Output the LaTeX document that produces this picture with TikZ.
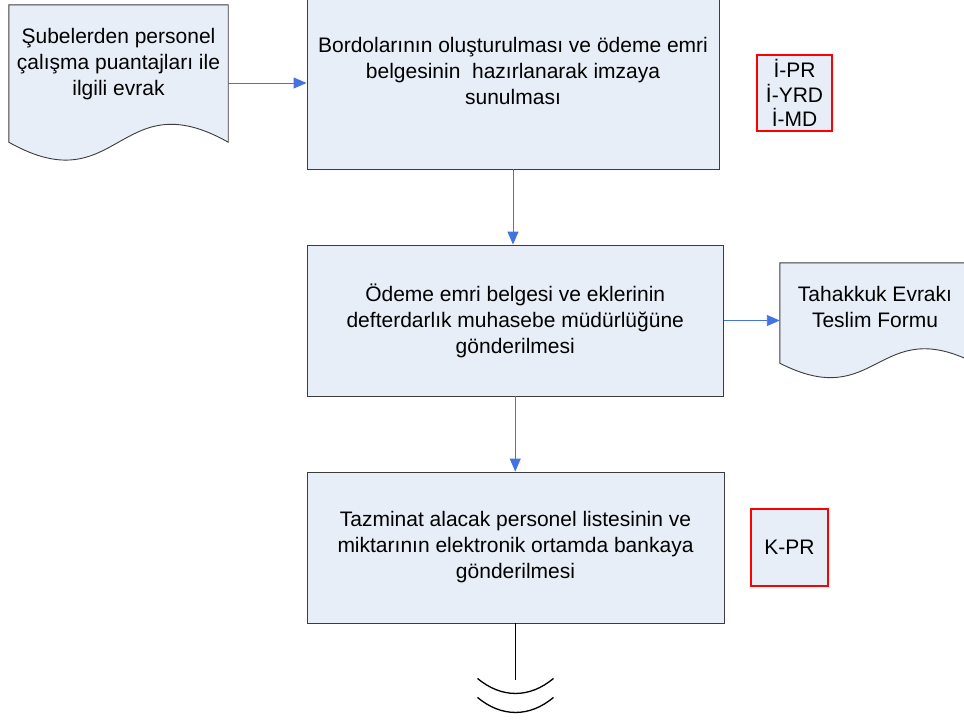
\documentclass[tikz,border=0pt]{standalone}
\usepackage{fontspec}
\setmainfont{Liberation Sans}
\usepackage{tikz}
\usetikzlibrary{arrows.meta,calc}
\definecolor{boxfill}{RGB}{232,238,247}
\definecolor{boxline}{RGB}{60,60,60}
\definecolor{flowblue}{RGB}{68,114,226}
\definecolor{markred}{RGB}{255,0,0}
\begin{document}
\begin{tikzpicture}[x=1pt,y=-1pt,
		stepbox/.style={draw=boxline,fill=boxfill,line width=0.9pt,inner sep=0pt,align=center,font=\fontsize{21}{26}\selectfont},
		docarea/.style={inner sep=0pt,draw=none},
		doctext/.style={align=center,inner sep=0pt,font=\fontsize{21}{26}\selectfont},
		docline/.style={draw=boxline,fill=boxfill,line width=0.9pt},
		codebox/.style={draw=markred,fill=boxfill,line width=2.8pt,inner sep=0pt,align=center,minimum width=75pt,minimum height=76pt,font=\fontsize{21}{24.5}\selectfont},
		flow/.style={draw=flowblue,line width=0.9pt,-{Triangle[width=11pt,length=13pt]}}]
		\clip (0,0) rectangle (964,720);
		\fill[white] (0,0) rectangle (964,720);
		\node[stepbox,minimum width=412pt,minimum height=196pt] (bordro) at (513,71)
		{Bordolarının oluşturulması ve ödeme emri\\belgesinin~ hazırlanarak imzaya\\sunulması};
		\node[stepbox,minimum width=416.5pt,minimum height=151pt] (odeme) at (515.25,320.5)
		{Ödeme emri belgesi ve eklerinin\\defterdarlık muhasebe müdürlüğüne\\gönderilmesi};
		\node[stepbox,minimum width=417pt,minimum height=151pt] (banka) at (515.5,547.5)
		{Tazminat alacak personel listesinin ve\\miktarının elektronik ortamda bankaya\\gönderilmesi};
		\node[codebox] (yetki) at (794.5,93) {İ-PR\\İ-YRD\\İ-MD};
		\node[codebox,minimum width=77pt,minimum height=77pt] (kpr) at (789.5,547.5) {K-PR};
		\node[docarea,minimum width=219pt,minimum height=137pt] (puantaj) at (118.5,73.5) {};
		\draw[docline] (puantaj.north west) -- (puantaj.south west)
			.. controls ($(puantaj.south)+(0,62)$) and ($(puantaj.south)+(0,-62)$) .. (puantaj.south east)
			-- (puantaj.north east) -- cycle;
		\node[doctext] (puantajtxt) at (118.5,64) {Şubelerden personel\\çalışma puantajları ile\\ilgili evrak};
		\node[docarea,minimum width=195pt,minimum height=100pt] (teslim) at (877.5,313) {};
		\draw[docline] (teslim.north west) -- (teslim.south west)
			.. controls ($(teslim.south)+(0,50)$) and ($(teslim.south)+(0,-50)$) .. (teslim.south east)
			-- (teslim.north east) -- cycle;
		\node[doctext] (teslimtxt) at (875,306.5) {Tahakkuk Evrakı\\Teslim Formu};
		\draw[flow] ([yshift=-9.5pt]puantaj.east) -- ([yshift=-9.5pt]puantaj.east -| bordro.west);
		\draw[flow] (bordro.south) -- (bordro.south |- odeme.north);
		\draw[flow] (odeme.south) -- (odeme.south |- banka.north);
		\draw[flow] (odeme.east) -- (odeme.east -| teslim.west);
		\draw[line width=1.3pt] (banka.south) -- ++(0,57) coordinate (kesik);
		\draw[line width=1.3pt] ($(kesik)+(-38,-2)$) .. controls ($(kesik)+(-14,18)$) and ($(kesik)+(14,18)$) .. ($(kesik)+(38,-2)$);
		\draw[line width=1.3pt] ($(kesik)+(-38,17)$) .. controls ($(kesik)+(-14,37)$) and ($(kesik)+(14,37)$) .. ($(kesik)+(38,17)$);
\end{tikzpicture}
\end{document}
